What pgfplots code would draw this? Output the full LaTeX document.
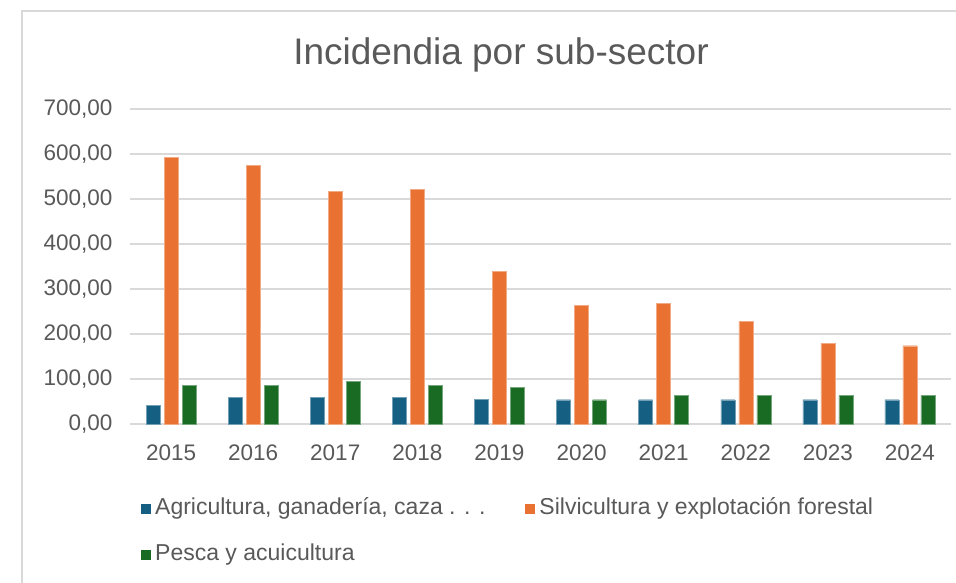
\documentclass[border=0pt]{standalone}
\usepackage{pgfplots}
\pgfplotsset{compat=1.18}
\usepackage{fontspec}
\setmainfont{Liberation Sans}
\definecolor{cblue}{HTML}{156082}
\definecolor{corange}{HTML}{E97132}
\definecolor{cgreen}{HTML}{196B24}
\definecolor{txt}{HTML}{595959}
\definecolor{grd}{HTML}{D9D9D9}
\begin{document}
\begin{tikzpicture}
\path[use as bounding box] (0pt,0pt) rectangle (956pt,-583pt);
\draw[grd, line width=1.5pt] (22pt,-600pt) -- (22pt,-11pt) -- (970pt,-11pt);
\node[text=txt, font=\fontsize{37}{44}\selectfont] at (501pt,-55pt) {Incidendia por sub-sector};
\begin{axis}[
  at={(130pt,-424pt)}, anchor=south west,
  scale only axis, width=821pt, height=315pt,
  xmin=-0.5, xmax=9.5, ymin=0, ymax=700,
  ybar=4pt, bar width=14pt,
  xtick={0,...,9},
  xticklabels={2015,2016,2017,2018,2019,2020,2021,2022,2023,2024},
  ytick={0,100,...,700},
  ymajorgrids, grid style={grd, line width=1.2pt},
  axis line style={draw=none},
  major tick length=0pt,
  /pgf/number format/assume math mode=true,
  yticklabel={\pgfmathprintnumber[fixed, fixed zerofill, precision=2, use comma, 1000 sep={}]{\tick}},
  tick label style={text=txt, font=\fontsize{22.5}{27}\selectfont},
  yticklabel style={xshift=-14pt},
  xticklabel style={yshift=-17pt},
  legend columns=2,
  legend cell align=left,
  legend style={draw=none, at={(0.0134,-0.222)}, anchor=north west,
    font=\fontsize{23}{27}\selectfont, text=txt, inner sep=0pt,
    row sep=17pt,
    nodes={inner sep=4pt, text height=16pt, text depth=5pt},
    /tikz/every even column/.append style={column sep=36pt}},
  legend image code/.code={\fill[#1,draw=none] (0pt,-5pt) rectangle (10pt,5pt);},
]
\addplot[fill=cblue, draw=cblue!60!white, line width=0.4pt] coordinates {(0,42) (1,60) (2,60) (3,60) (4,55) (5,54) (6,54) (7,54) (8,54) (9,54)};
\addlegendentry{Agricultura, ganadería, caza . . .}
\addplot[fill=corange, draw=corange!60!white, line width=0.4pt] coordinates {(0,593) (1,575) (2,517) (3,521) (4,339) (5,263) (6,268) (7,228) (8,179) (9,174)};
\addlegendentry{Silvicultura y explotación forestal}
\addplot[fill=cgreen, draw=cgreen!60!white, line width=0.4pt] coordinates {(0,86) (1,86) (2,95) (3,86) (4,82) (5,54) (6,63) (7,63) (8,63) (9,63)};
\addlegendentry{Pesca y acuicultura}
\end{axis}
\end{tikzpicture}
\end{document}
